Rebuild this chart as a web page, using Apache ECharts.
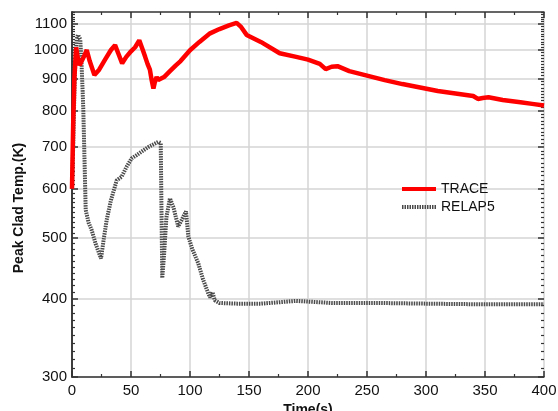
<!DOCTYPE html>
<html>
<head>
<meta charset="utf-8">
<script src="https://cdn.jsdelivr.net/npm/echarts@6/dist/echarts.min.js"></script>
<style>
  html, body { margin: 0; padding: 0; background: #fff; }
  #chart-container { width: 558px; height: 411px; }
</style>
</head>
<body>
<div id="chart-container"></div>
<script>
// TRACE curve (time s, peak clad temperature K)
const traceTime = [0, 1, 2, 3.5, 5, 6.5, 8, 10, 12.5, 15, 19, 23, 28, 33, 36.5, 39, 42.5, 46, 50, 53.5, 57, 60, 62, 64, 66, 67.5, 69, 70, 71.7, 73, 74.6, 78, 83, 88, 92, 100, 108, 117, 125, 133, 139.5, 143, 148, 160, 176, 190, 200, 210, 215, 220, 225, 235, 250, 265, 280, 295, 310, 325, 340, 344, 348, 353, 365, 380, 390, 400];
const traceTemp = [600, 760, 900, 1010, 970, 945, 950, 975, 1000, 960, 912, 930, 965, 1000, 1018, 990, 952, 975, 995, 1010, 1036, 1000, 975, 950, 930, 895, 868, 885, 905, 895, 889, 905, 925, 945, 960, 999, 1030, 1063, 1080, 1095, 1105, 1090, 1057, 1030, 988, 975, 965, 950, 932, 940, 942, 925, 910, 895, 882, 871, 860, 852, 844, 835, 838, 840, 832, 825, 820, 815];

// RELAP5 curve
const relapTime = [0, 1, 2, 3, 4, 5, 6, 7, 8, 9, 9.6, 10.5, 11.6, 14, 16.7, 20, 24.6, 27, 29.4, 33, 37.9, 42, 46.4, 50.6, 54.8, 60, 65, 70, 73.1, 75.2, 75.8, 76.5, 78, 80, 83, 86, 90, 93, 96.6, 98.6, 102, 107, 111, 115.5, 117, 119, 121, 125, 140, 160, 190, 220, 260, 300, 350, 400];
const relapTemp = [600, 700, 850, 980, 1040, 1057, 1057, 1040, 960, 860, 800, 680, 555, 530, 515, 490, 464, 500, 535, 575, 619, 627, 651, 671, 679, 690, 700, 708, 713, 710, 560, 432, 470, 540, 579, 560, 522, 535, 552, 503, 480, 456, 430, 408, 402, 410, 398, 394, 393, 393, 397, 394, 394, 393, 392, 392];

// y tick labels (log scale)
const yMajor = [300, 400, 500, 600, 700, 800, 900, 1000, 1100];
const yMinor = [];
for (let v = 310; v <= 1150; v += 10) if (v % 100) yMinor.push(v);

const yMin = Math.log10(300);
const yMax = Math.log10(1150);
const lg = (v) => Math.log10(v);

const dom = document.getElementById("chart-container");
const chart = echarts.init(dom, null, { renderer: "canvas" });

const gridRect = () => ({ left: 72, right: 14, top: 12, bottom: 34, outerBoundsMode: "none", containLabel: false });
const axisColor = "#333";
const gridColor = "#d4d4d4";
const font = "Liberation Sans, Arial, sans-serif";

const tick = (len, values) => {
  const t = { show: true, inside: true, length: len, lineStyle: { color: axisColor, width: len > 4 ? 1.5 : 1.2 } };
  if (values) t.customValues = values;
  return t;
};
const minorTick = () => ({ show: true, splitNumber: 2, length: 3, lineStyle: { color: axisColor, width: 1.2 } });
const axisLine = (show) => ({ show: show, lineStyle: { color: axisColor, width: 1.5 } });

const option = {
  animation: false,
  grid: [gridRect(), gridRect(), gridRect()],
  legend: {
    orient: "vertical",
    left: 395,
    top: 177,
    itemWidth: 34,
    itemHeight: 10,
    itemGap: 4,
    itemStyle: { opacity: 0 },
    lineStyle: { width: 4 },
    textStyle: { fontFamily: font, fontSize: 14, color: "#111" },
    data: ["TRACE", "RELAP5"],
  },
  graphic: [{
    type: "text",
    x: 19, y: 208,
    rotation: Math.PI / 2,
    style: {
      text: "Peak Clad Temp.(K)",
      font: "bold 14px " + font,
      fill: "#111",
      align: "center",
      verticalAlign: "middle",
    },
  }],
  xAxis: [
    {
      type: "value", min: 0, max: 400, interval: 50,
      gridIndex: 0, position: "bottom",
      name: "Time(s)", nameLocation: "middle", nameGap: 21,
      nameTextStyle: { fontFamily: font, fontSize: 14, fontWeight: "bold", color: "#111" },
      axisLine: axisLine(true),
      axisTick: tick(6),
      minorTick: minorTick(),
      axisLabel: { fontFamily: font, fontSize: 15, color: "#111", margin: 6 },
      splitLine: { show: true, lineStyle: { color: gridColor, width: 1.5 } },
    },
    {
      type: "value", min: 0, max: 400, interval: 50,
      gridIndex: 0, position: "top",
      axisLine: axisLine(true),
      axisTick: tick(6),
      minorTick: minorTick(),
      axisLabel: { show: false },
      splitLine: { show: false },
    },
    { type: "value", min: 0, max: 400, gridIndex: 1, show: false },
    { type: "value", min: 0, max: 400, gridIndex: 2, show: false },
  ],
  yAxis: [
    {
      type: "value", min: yMin, max: yMax,
      gridIndex: 0, position: "left",
      axisLine: axisLine(true),
      axisTick: { show: false },
      axisLabel: {
        show: true, customValues: yMajor.map(lg), fontFamily: font, fontSize: 15, color: "#111", margin: 5,
        formatter: (v) => String(Math.round(Math.pow(10, v))),
      },
      splitLine: { show: false },
    },
    {
      type: "value", min: yMin, max: yMax,
      gridIndex: 0, position: "right",
      axisLine: axisLine(true),
      axisTick: { show: false },
      axisLabel: { show: false },
      splitLine: { show: false },
    },
    // major ticks + grid lines
    {
      type: "value", min: yMin, max: yMax,
      gridIndex: 1, position: "left",
      axisLine: axisLine(false),
      axisTick: tick(6, yMajor.map(lg)),
      axisLabel: { show: false },
      splitLine: { show: true, lineStyle: { color: gridColor, width: 1.5 } },
    },
    {
      type: "value", min: yMin, max: yMax,
      gridIndex: 1, position: "right",
      axisLine: axisLine(false),
      axisTick: tick(6, yMajor.map(lg)),
      axisLabel: { show: false },
      splitLine: { show: false },
    },
    // minor ticks
    {
      type: "value", min: yMin, max: yMax,
      gridIndex: 2, position: "left",
      axisLine: axisLine(false),
      axisTick: tick(3, yMinor.map(lg)),
      axisLabel: { show: false },
      splitLine: { show: false },
    },
    {
      type: "value", min: yMin, max: yMax,
      gridIndex: 2, position: "right",
      axisLine: axisLine(false),
      axisTick: tick(3, yMinor.map(lg)),
      axisLabel: { show: false },
      splitLine: { show: false },
    },
  ],
  series: [
    {
      name: "RELAP5",
      type: "line",
      xAxisIndex: 0, yAxisIndex: 0,
      symbol: "none",
      data: relapTime.map((t, i) => [t, lg(relapTemp[i])]),
      itemStyle: { color: "#555" },
      lineStyle: { color: "#4a4a4a", width: 4, type: [1.5, 1] },
    },
    {
      name: "TRACE",
      type: "line",
      xAxisIndex: 0, yAxisIndex: 0,
      symbol: "none",
      data: traceTime.map((t, i) => [t, lg(traceTemp[i])]),
      itemStyle: { color: "#ff0000" },
      lineStyle: { color: "#ff0000", width: 4.5 },
    },
  ],
};

chart.setOption(option);
window.addEventListener("resize", chart.resize);
</script>
</body>
</html>
